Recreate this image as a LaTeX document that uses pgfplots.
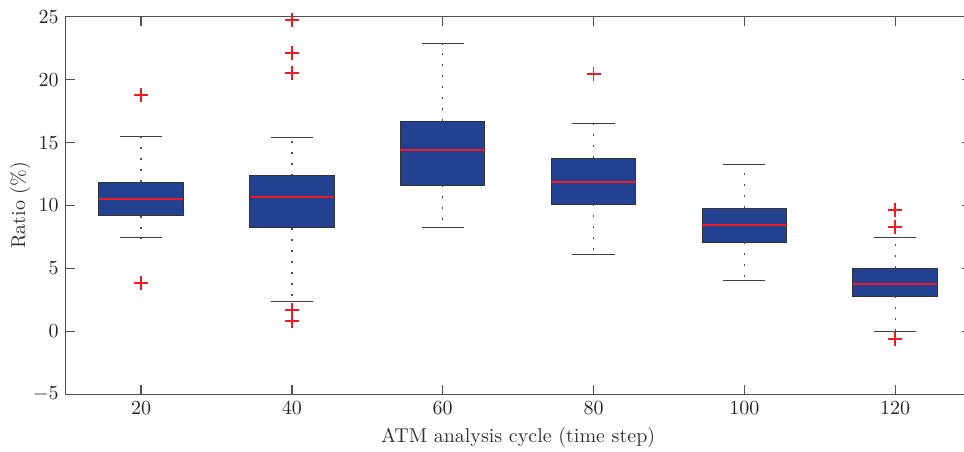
\documentclass[border=0pt]{standalone}
\usepackage{pgfplots}
\pgfplotsset{compat=1.18}
\usepgfplotslibrary{statistics}
\definecolor{boxblue}{RGB}{35,65,145}
\definecolor{medred}{RGB}{237,28,36}
\definecolor{axgray}{RGB}{80,80,80}
\begin{document}
\begin{tikzpicture}
\begin{axis}[
  at={(0,0)}, anchor=south west,
  scale only axis, width=452.4pt, height=188.8pt,
  xmin=10, xmax=130, ymin=-5, ymax=25,
  xtick={20,40,60,80,100,120},
  ytick={-5,0,5,10,15,20,25},
  tick align=inside, major tick length=4.5pt,
  axis line style={axgray, line width=0.6pt},
  every tick/.style={axgray, line width=0.6pt},
  xlabel={ATM analysis cycle (time step)},
  ylabel={Ratio (\%)},
  xlabel style={at={(axis description cs:0.5,-0.1157)}, anchor=center, text=black!80},
  ylabel style={at={(axis description cs:-0.0505,0.5)}, anchor=center, text=black!80},
  ticklabel style={text=black!85},
  boxplot/draw direction=y,
  boxplot/box extend=11.2,
  boxplot/whisker extend=5.6,
  boxplot/every box/.style={fill=boxblue, draw=black!80, line width=0.5pt},
  boxplot/every median/.style={draw=medred, line width=0.9pt},
  boxplot/draw/lower whisker/.code={
    \draw[axgray, line width=0.6pt, dash pattern=on 1pt off 4.5pt] (boxplot cs:\pgfplotsboxplotvalue{lower quartile}) -- (boxplot cs:\pgfplotsboxplotvalue{lower whisker});
    \draw[black!75, line width=0.5pt] (boxplot whisker cs:\pgfplotsboxplotvalue{lower whisker},0) -- (boxplot whisker cs:\pgfplotsboxplotvalue{lower whisker},1);
  },
  boxplot/draw/upper whisker/.code={
    \draw[axgray, line width=0.6pt, dash pattern=on 1pt off 4.5pt] (boxplot cs:\pgfplotsboxplotvalue{upper quartile}) -- (boxplot cs:\pgfplotsboxplotvalue{upper whisker});
    \draw[black!75, line width=0.5pt] (boxplot whisker cs:\pgfplotsboxplotvalue{upper whisker},0) -- (boxplot whisker cs:\pgfplotsboxplotvalue{upper whisker},1);
  },
]
\pgfplotsset{outl/.style={mark=+, mark size=3.5pt, mark options={draw=medred, line width=0.9pt, solid}}}
\addplot[outl, boxplot prepared={draw position=20, lower whisker=7.42, lower quartile=9.17, median=10.54, upper quartile=11.84, upper whisker=15.47}]
  coordinates {(0,18.75) (0,3.84)};
\addplot[outl, boxplot prepared={draw position=40, lower whisker=2.39, lower quartile=8.24, median=10.70, upper quartile=12.37, upper whisker=15.44}]
  coordinates {(0,24.74) (0,22.09) (0,20.55) (0,1.70) (0,0.85)};
\addplot[outl, boxplot prepared={draw position=60, lower whisker=8.29, lower quartile=11.60, median=14.43, upper quartile=16.69, upper whisker=22.86}]
  coordinates {};
\addplot[outl, boxplot prepared={draw position=80, lower whisker=6.07, lower quartile=10.10, median=11.87, upper quartile=13.77, upper whisker=16.48}]
  coordinates {(0,20.42)};
\addplot[outl, boxplot prepared={draw position=100, lower whisker=4.03, lower quartile=7.10, median=8.48, upper quartile=9.78, upper whisker=13.27}]
  coordinates {};
\addplot[outl, boxplot prepared={draw position=120, lower whisker=-0.05, lower quartile=2.78, median=3.79, upper quartile=5.03, upper whisker=7.44}]
  coordinates {(0,9.64) (0,8.32) (0,-0.63)};
\end{axis}
\pgfresetboundingbox
\path[use as bounding box] (-32.85pt,-28.35pt) rectangle (449.15pt,197.15pt);
\end{tikzpicture}
\end{document}
